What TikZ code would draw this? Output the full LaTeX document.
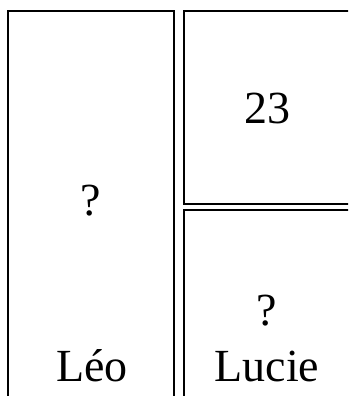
\documentclass[tikz,border=0pt]{standalone}
\usepackage{fontspec}
\setmainfont{Liberation Serif}
\begin{document}
\begin{tikzpicture}[x=1pt,y=-1pt,
  box/.style={draw=black,line width=2pt},
  lbl/.style={anchor=base,inner sep=0pt,font=\fontsize{46}{46}\selectfont}]
\useasboundingbox (0,0) rectangle (348,396);
\clip (0,0) rectangle (348,396);
\draw[box] (7.7,11.3) rectangle (174.3,420);
\draw[box] (183.8,11.3) rectangle (352,204);
\draw[box] (183.8,209.7) rectangle (352,420);
\node[lbl] (q1) at (91,215) {?};
\node[lbl] (n23) at (267,123) {23};
\node[lbl] (q2) at (267,325) {?};
\node[lbl] (leo) at (92,381) {Léo};
\node[lbl] (lucie) at (267,381) {Lucie};
\end{tikzpicture}
\end{document}
